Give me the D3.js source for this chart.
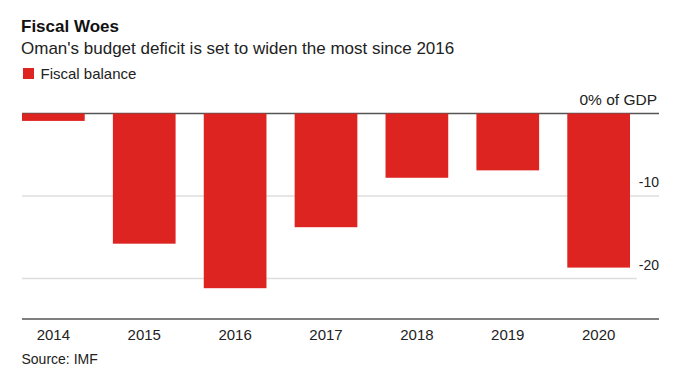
<!DOCTYPE html>
<html>
<head>
<meta charset="utf-8">
<script src="https://cdn.jsdelivr.net/npm/d3@7"></script>
<style>
  html, body { margin: 0; padding: 0; background: #fff; }
  svg { display: block; font-family: "Liberation Sans", Arial, Helvetica, sans-serif; }
</style>
</head>
<body>
<svg id="chart" width="680" height="374"></svg>
<script>
const years = ["2014", "2015", "2016", "2017", "2018", "2019", "2020"];
const fiscalBalance = [-0.9, -15.8, -21.2, -13.8, -7.8, -6.9, -18.7];
const yTicks = [0, -10, -20];
const yTickLabels = ["0% of GDP", "-10", "-20"];

const svg = d3.select("#chart");
const red = "#dd2421";
const left = 22, right = 659, barsRight = 630;
const zeroY = 113.5, bottomY = 319.5;

const x = d3.scaleBand().domain(years).range([left, barsRight]).paddingInner(0.31).paddingOuter(0);
const y = d3.scaleLinear().domain([0, -25]).range([zeroY, bottomY]);

// Titles
svg.append("text").attr("x", 21).attr("y", 32).attr("font-size", 17).attr("font-weight", "bold")
  .attr("fill", "#111").text("Fiscal Woes");
svg.append("text").attr("x", 21).attr("y", 54).attr("font-size", 17)
  .attr("fill", "#222").text("Oman's budget deficit is set to widen the most since 2016");

// Legend
svg.append("rect").attr("x", 23).attr("y", 68).attr("width", 11).attr("height", 11).attr("fill", red);
svg.append("text").attr("x", 40.5).attr("y", 78.5).attr("font-size", 15)
  .attr("fill", "#222").text("Fiscal balance");

// Gridlines & tick labels
const g = svg.append("g");
yTicks.forEach((t, i) => {
  const yy = Math.round(y(t) * 2) / 2;
  const lab = g.append("text")
    .attr("x", i === 0 ? 657 : right)
    .attr("y", yy - 9)
    .attr("text-anchor", "end")
    .attr("font-size", i === 0 ? 15.5 : 14)
    .attr("fill", "#222")
    .text(yTickLabels[i]);
  let x2 = right;
  if (i === yTicks.length - 1) {
    x2 = right - lab.node().getComputedTextLength() - 2;
  }
  g.insert("line", "text")
    .attr("x1", left).attr("x2", x2)
    .attr("y1", yy).attr("y2", yy)
    .attr("stroke", i === 0 ? "#555" : "#dedede")
    .attr("stroke-width", 1.5);
});

// Bars
svg.append("g").selectAll("rect").data(years).join("rect")
  .attr("x", d => x(d))
  .attr("width", x.bandwidth())
  .attr("y", zeroY)
  .attr("height", (d, i) => y(fiscalBalance[i]) - zeroY)
  .attr("fill", red);

// Bottom axis
const xAxis = d3.axisBottom(x).tickSize(0).tickPadding(0);
const ax = svg.append("g").attr("transform", `translate(0,${bottomY - 0.5})`).call(xAxis);
ax.select(".domain").remove();
ax.append("line").attr("x1", left).attr("x2", right).attr("y1", 0).attr("y2", 0)
  .attr("stroke", "#555").attr("stroke-width", 1.5);
ax.selectAll(".tick text")
  .attr("font-family", "Liberation Sans, Arial, sans-serif")
  .attr("font-size", 15).attr("fill", "#222")
  .attr("dy", 0).attr("y", 20.5);

// Source
svg.append("text").attr("x", 21.5).attr("y", 363.5).attr("font-size", 14)
  .attr("fill", "#222").text("Source: IMF");
</script>
</body>
</html>
